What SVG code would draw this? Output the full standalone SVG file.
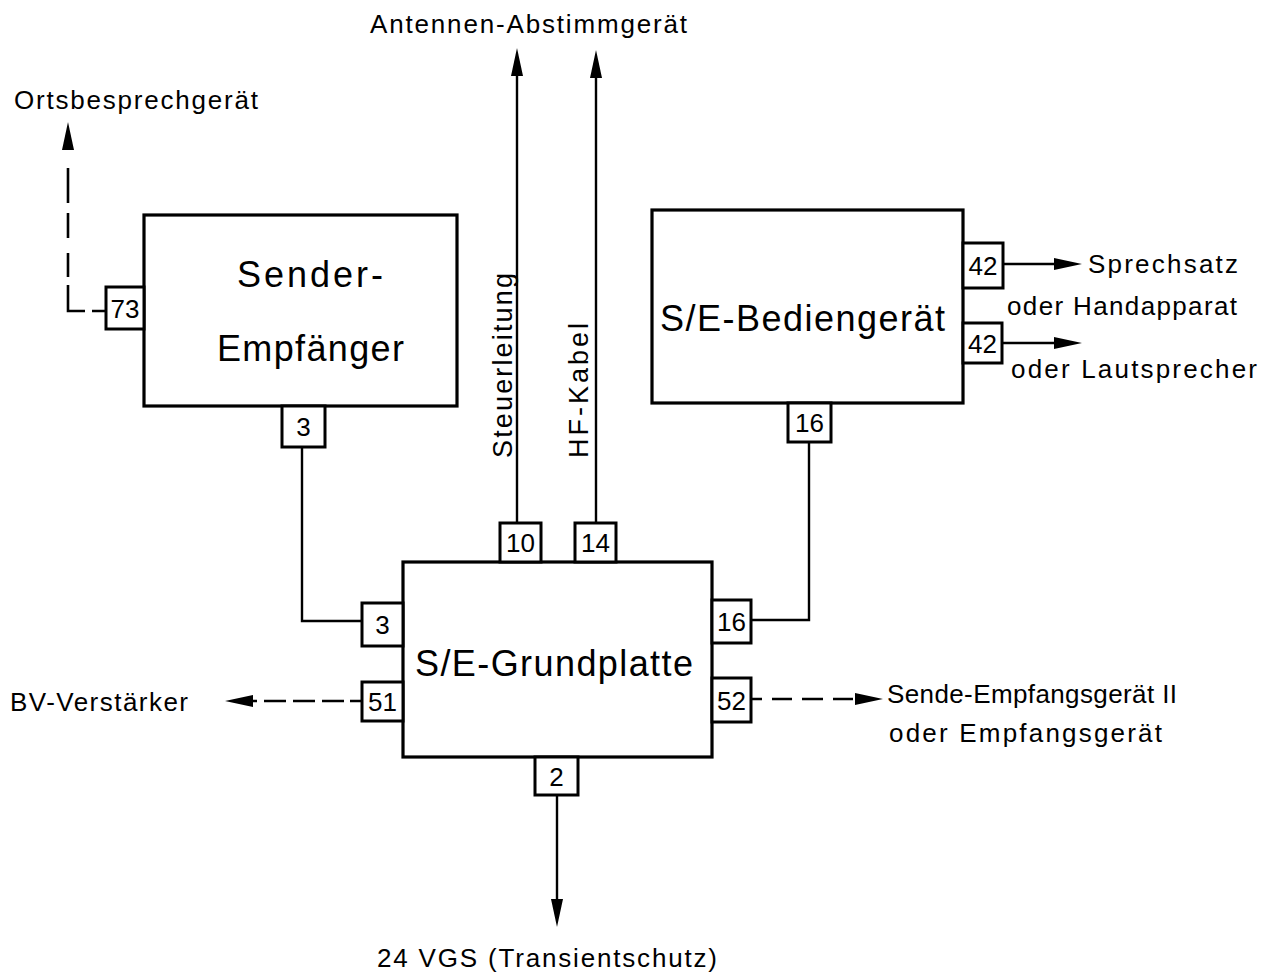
<svg xmlns="http://www.w3.org/2000/svg" width="1269" height="976" viewBox="0 0 1269 976">
<style>
.box{fill:#fff;stroke:#000;stroke-width:3.2}
.port{fill:#fff;stroke:#000;stroke-width:3}
.ln{fill:none;stroke:#000;stroke-width:2.4}
.dash{fill:none;stroke:#000;stroke-width:2.6}
text{font-family:"Liberation Sans","DejaVu Sans",sans-serif;fill:#000}
.big{font-size:36px}
.pn{font-size:26px;text-anchor:middle}
.lbl{font-size:26px}
</style>
<defs>
<marker id="arr" viewBox="0 0 28 12" refX="18" refY="6" markerWidth="28" markerHeight="12" markerUnits="userSpaceOnUse" orient="auto">
<path d="M0,0 L28,6 L0,12 Z" fill="#000"/>
</marker>
</defs>
<rect width="1269" height="976" fill="#fff"/>

<g id="connectors">
<path class="ln" d="M302,447 V621 H362"/>
<path class="ln" d="M809,442 V620 H751"/>
<path class="ln" d="M517,523 V58" marker-end="url(#arr)"/>
<path class="ln" d="M596,523 V60" marker-end="url(#arr)"/>
<path class="ln" d="M557,795 V917" marker-end="url(#arr)"/>
<path class="ln" d="M1003,264 H1072" marker-end="url(#arr)"/>
<path class="ln" d="M1002,343 H1072" marker-end="url(#arr)"/>
<path class="dash" d="M362,701 H235" stroke-dasharray="12 6 22 7 22 7 22 7 40" marker-end="url(#arr)"/>
<path class="dash" d="M751,699 H873" stroke-dasharray="11 10 20 10 21 10 20 40" marker-end="url(#arr)"/>
<path class="dash" d="M106,311 H68 V132" stroke-dasharray="14 7 43 8 24 15 25 10 35 18 40" marker-end="url(#arr)"/>
</g>

<g id="sender-empfaenger">
<rect class="box" x="144" y="215" width="313" height="191"/>
<text class="big" x="237" y="287" textLength="146" lengthAdjust="spacing">Sender-</text>
<text class="big" x="217" y="361" textLength="187" lengthAdjust="spacing">Empfänger</text>
<rect class="port" x="106" y="287" width="38" height="42"/>
<text class="pn" x="125" y="318">73</text>
<rect class="port" x="282" y="406" width="43" height="41"/>
<text class="pn" x="303.5" y="436">3</text>
</g>

<g id="bediengeraet">
<rect class="box" x="652" y="210" width="311" height="193"/>
<text class="big" x="660" y="331" textLength="285" lengthAdjust="spacing">S/E-Bediengerät</text>
<rect class="port" x="963" y="243" width="40" height="45"/>
<text class="pn" x="983" y="275">42</text>
<rect class="port" x="963" y="323" width="39" height="40"/>
<text class="pn" x="982.5" y="353">42</text>
<rect class="port" x="788" y="403" width="43" height="39"/>
<text class="pn" x="809.5" y="432">16</text>
</g>

<g id="grundplatte">
<rect class="box" x="403" y="562" width="309" height="195"/>
<text class="big" x="415" y="676" textLength="278" lengthAdjust="spacing">S/E-Grundplatte</text>
<rect class="port" x="500" y="523" width="41" height="39"/>
<text class="pn" x="520.5" y="552">10</text>
<rect class="port" x="575" y="523" width="41" height="39"/>
<text class="pn" x="595.5" y="552">14</text>
<rect class="port" x="362" y="603" width="41" height="43"/>
<text class="pn" x="382.5" y="634">3</text>
<rect class="port" x="362" y="682" width="41" height="39"/>
<text class="pn" x="382.5" y="711">51</text>
<rect class="port" x="712" y="600" width="39" height="43"/>
<text class="pn" x="731.5" y="631">16</text>
<rect class="port" x="712" y="678" width="39" height="44"/>
<text class="pn" x="731.5" y="710">52</text>
<rect class="port" x="535" y="757" width="43" height="38"/>
<text class="pn" x="556.5" y="786">2</text>
</g>

<g id="ortsbesprechgeraet"><text class="lbl" x="14" y="109" textLength="244" lengthAdjust="spacing">Ortsbesprechgerät</text></g>
<g id="antennen-abstimmgeraet"><text class="lbl" x="370" y="33" font-size="27" textLength="317" lengthAdjust="spacing">Antennen-Abstimmgerät</text></g>
<g id="steuerleitung"><text transform="translate(512,458) rotate(-90)" font-size="27" textLength="185" lengthAdjust="spacing">Steuerleitung</text></g>
<g id="hf-kabel"><text transform="translate(588,458) rotate(-90)" font-size="27" textLength="135" lengthAdjust="spacing">HF-Kabel</text></g>
<g id="sprechsatz">
<text class="lbl" x="1088" y="273" textLength="150" lengthAdjust="spacing">Sprechsatz</text>
<text class="lbl" x="1007" y="315" textLength="230" lengthAdjust="spacing">oder Handapparat</text>
<text class="lbl" x="1011" y="378" textLength="246" lengthAdjust="spacing">oder Lautsprecher</text>
</g>
<g id="bv-verstaerker"><text class="lbl" x="10" y="711" textLength="178" lengthAdjust="spacing">BV-Verstärker</text></g>
<g id="sende-empfangsgeraet-ii">
<text class="lbl" x="887" y="703" textLength="290" lengthAdjust="spacing">Sende-Empfangsgerät II</text>
<text class="lbl" x="889" y="742" textLength="273" lengthAdjust="spacing">oder Empfangsgerät</text>
</g>
<g id="transientschutz"><text class="lbl" x="377" y="967" font-size="27" textLength="340" lengthAdjust="spacing">24 VGS (Transientschutz)</text></g>
</svg>
